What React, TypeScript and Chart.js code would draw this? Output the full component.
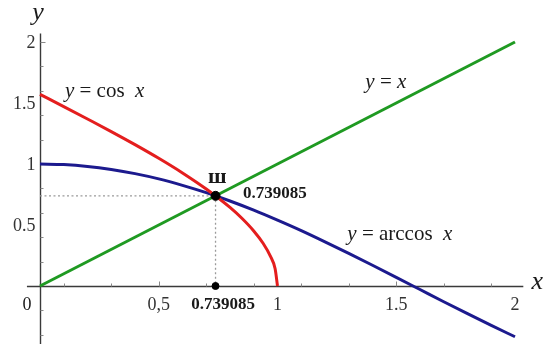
import React, { useEffect, useRef } from "react";
import { Chart, registerables } from "chart.js";

Chart.register(...registerables);

// y = x (green)
const lineX = [0, 2];
const lineY = [0, 2];

// red curve (labelled "y = cos x" in the picture)
const redX = [0, 0.1, 0.2, 0.3, 0.4, 0.5, 0.6, 0.7, 0.8, 0.85, 0.9, 0.94, 0.97, 0.99, 1.0];
const redY = [1.571, 1.471, 1.369, 1.266, 1.159, 1.047, 0.927, 0.795, 0.644, 0.555, 0.451, 0.348, 0.245, 0.141, 0];

// blue curve (labelled "y = arccos x" in the picture)
const blueX = [0, 0.1, 0.2, 0.3, 0.4, 0.5, 0.6, 0.7, 0.8, 0.9, 1.0, 1.1, 1.2, 1.3, 1.4, 1.5, 1.6, 1.7, 1.8, 1.9, 2.0];
const blueY = [1, 0.995, 0.98, 0.955, 0.921, 0.878, 0.825, 0.765, 0.697, 0.622, 0.54, 0.454, 0.362, 0.267, 0.17, 0.071, -0.029, -0.129, -0.227, -0.323, -0.416];

// fixed point
const fixedX = [0.739085, 0.739085];
const fixedY = [0.739085, 0];

// dotted guides
const guideX = [0, 0.739085, 0.739085];
const guideY = [0.739085, 0.739085, 0];

const xTickValues = [0.5, 1, 1.5, 2];
const xTickLabels = ["0,5", "1", "1.5", "2"];
const yTickValues = [0.5, 1, 1.5, 2];
const yTickLabels = ["0.5", "1", "1.5", "2"];

// visible axis extents (data units)
const xAxisRange = [-0.055, 2.035];
const yAxisRange = [-0.48, 2.07];

const SERIF = '"Liberation Serif", "Times New Roman", serif';

const zip = (xs: number[], ys: number[]) => xs.map((x, i) => ({ x, y: ys[i] }));

type Part = { t: string; style?: string };

const annotations: { x: number; y: number; parts: Part[]; size: number; align: CanvasTextAlign }[] = [
  { x: -0.008, y: 2.234, parts: [{ t: "y", style: "italic" }], size: 26, align: "center" },
  { x: 2.094, y: 0.033, parts: [{ t: "x", style: "italic" }], size: 26, align: "center" },
  { x: 0.105, y: 1.596, parts: [{ t: "y", style: "italic" }, { t: " = cos  " }, { t: "x", style: "italic" }], size: 21, align: "left" },
  { x: 1.37, y: 1.669, parts: [{ t: "y", style: "italic" }, { t: " = " }, { t: "x", style: "italic" }], size: 21, align: "left" },
  { x: 1.294, y: 0.426, parts: [{ t: "y", style: "italic" }, { t: " = arccos  " }, { t: "x", style: "italic" }], size: 21, align: "left" },
  { x: 0.746, y: 0.892, parts: [{ t: "ш", style: "bold" }], size: 22, align: "center" },
  { x: 0.855, y: 0.761, parts: [{ t: "0.739085", style: "bold" }], size: 17, align: "left" },
  { x: 0.771, y: -0.155, parts: [{ t: "0.739085", style: "bold" }], size: 17, align: "center" },
  { x: -0.055, y: -0.155, parts: [{ t: "0" }], size: 18, align: "center" },
];

const isMultiple = (v: number, step: number) => Math.abs(v / step - Math.round(v / step)) < 1e-6;

const axesPlugin = {
  id: "axesPlugin",
  beforeDatasetsDraw(chart: any) {
    const { ctx, scales } = chart;
    const xs = scales.x;
    const ys = scales.y;
    const x0 = Math.round(xs.getPixelForValue(0)) + 0.5;
    const y0 = Math.round(ys.getPixelForValue(0)) + 0.5;
    ctx.save();
    ctx.strokeStyle = "#3a3a3a";
    ctx.lineWidth = 1.4;
    ctx.beginPath();
    ctx.moveTo(xs.getPixelForValue(xAxisRange[0]), y0);
    ctx.lineTo(xs.getPixelForValue(xAxisRange[1]), y0);
    ctx.moveTo(x0, ys.getPixelForValue(yAxisRange[1]));
    ctx.lineTo(x0, ys.getPixelForValue(yAxisRange[0]));
    ctx.stroke();
    // minor tick marks from the scale's own ticks
    ctx.strokeStyle = "#888";
    ctx.lineWidth = 1;
    xs.ticks.forEach((t: any) => {
      const v = t.value;
      if (v <= 0 || v > xAxisRange[1] || !isMultiple(v, 0.1)) return;
      const major = isMultiple(v, 0.5);
      const p = Math.round(xs.getPixelForValue(v)) + 0.5;
      ctx.beginPath();
      ctx.moveTo(p, y0);
      ctx.lineTo(p, y0 - (major ? 5 : 3));
      ctx.stroke();
    });
    ys.ticks.forEach((t: any) => {
      const v = t.value;
      if (Math.abs(v) < 1e-9 || v > yAxisRange[1] || v < yAxisRange[0] || !isMultiple(v, 0.1)) return;
      const major = isMultiple(v, 0.5);
      const p = Math.round(ys.getPixelForValue(v)) + 0.5;
      ctx.beginPath();
      ctx.moveTo(x0, p);
      ctx.lineTo(x0 + (major ? 5 : 3), p);
      ctx.stroke();
    });
    // tick labels
    ctx.fillStyle = "#333";
    ctx.font = `18px ${SERIF}`;
    ctx.textBaseline = "middle";
    ctx.textAlign = "center";
    xTickValues.forEach((v, i) => {
      ctx.fillText(xTickLabels[i], xs.getPixelForValue(v), y0 + 19);
    });
    ctx.textAlign = "right";
    yTickValues.forEach((v, i) => {
      ctx.fillText(yTickLabels[i], x0 - 5, ys.getPixelForValue(v) + 1);
    });
    ctx.restore();
  },
  afterDraw(chart: any) {
    const { ctx, scales } = chart;
    const xs = scales.x;
    const ys = scales.y;
    ctx.save();
    ctx.fillStyle = "#1a1a1a";
    ctx.textBaseline = "middle";
    annotations.forEach((a) => {
      const fontFor = (p: Part) => `${p.style ? p.style + " " : ""}${a.size}px ${SERIF}`;
      let total = 0;
      a.parts.forEach((p) => {
        ctx.font = fontFor(p);
        total += ctx.measureText(p.t).width;
      });
      let px = xs.getPixelForValue(a.x);
      if (a.align === "center") px -= total / 2;
      const py = ys.getPixelForValue(a.y);
      ctx.textAlign = "left";
      a.parts.forEach((p) => {
        ctx.font = fontFor(p);
        ctx.fillText(p.t, px, py);
        px += ctx.measureText(p.t).width;
      });
    });
    ctx.restore();
  },
};

export default function App() {
  const ref = useRef<HTMLCanvasElement | null>(null);
  useEffect(() => {
    if (!ref.current) return;
    const chart = new Chart(ref.current, {
      type: "line",
      data: {
        datasets: [
          {
            label: "point",
            data: zip(fixedX, fixedY),
            showLine: false,
            pointRadius: [4.5, 3.5],
            pointBackgroundColor: "#000",
            pointBorderColor: "#000",
            order: 0,
          },
          {
            label: "y = x",
            data: zip(lineX, lineY),
            borderColor: "#1f9a22",
            borderWidth: 3,
            pointRadius: 0,
            order: 1,
          },
          {
            label: "red",
            data: zip(redX, redY),
            borderColor: "#e41e1e",
            borderWidth: 3,
            pointRadius: 0,
            cubicInterpolationMode: "monotone",
            order: 2,
          },
          {
            label: "blue",
            data: zip(blueX, blueY),
            borderColor: "#1c1a8e",
            borderWidth: 3,
            pointRadius: 0,
            cubicInterpolationMode: "monotone",
            order: 3,
          },
          {
            label: "guide",
            data: zip(guideX, guideY),
            borderColor: "#9a9a9a",
            borderWidth: 1.3,
            borderDash: [2, 2.5],
            pointRadius: 0,
            order: 4,
          },
        ],
      },
      options: {
        animation: false,
        responsive: false,
        devicePixelRatio: 1,
        layout: { padding: 0, autoPadding: false },
        plugins: { legend: { display: false }, tooltip: { enabled: false } },
        scales: {
          x: {
            type: "linear",
            display: false,
            min: -0.1684,
            max: 2.1221,
            ticks: { stepSize: 0.1, includeBounds: false },
          },
          y: {
            type: "linear",
            display: false,
            min: -0.4754,
            max: 2.3443,
            ticks: { stepSize: 0.1, includeBounds: false },
          },
        },
      },
      plugins: [axesPlugin],
    });
    return () => chart.destroy();
  }, []);
  return (
    <div style={{ position: "fixed", left: 0, top: 0, width: 544, height: 344, background: "#fff" }}>
      <canvas ref={ref} width={544} height={344} style={{ display: "block" }} />
    </div>
  );
}
